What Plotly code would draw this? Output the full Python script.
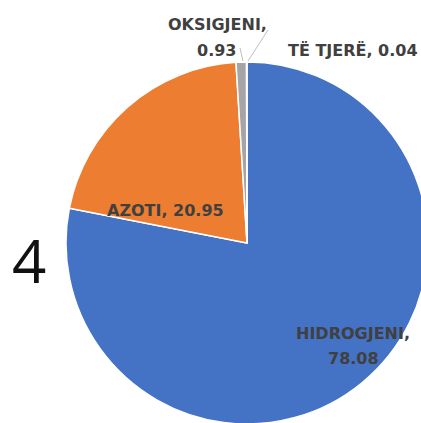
import plotly.graph_objects as go

# data
labels = ["HIDROGJENI", "AZOTI", "OKSIGJENI", "TË TJERË"]
values = [78.08, 20.95, 0.93, 0.04]
colors = ["#4472C4", "#ED7D31", "#A5A5A5", "#FFC000"]

W, H = 440, 440


def px(x):
    return x / W


def py(y):
    return 1 - y / H


fig = go.Figure()
fig.add_trace(go.Pie(labels=labels, values=values, sort=False, direction="clockwise",
                     marker=dict(colors=colors, line=dict(color="white", width=1.5)),
                     textinfo="none", hoverinfo="label+value", showlegend=False,
                     domain=dict(x=[px(66), px(428)], y=[py(424), py(62)])))

lab_font = dict(family="DejaVu Sans, sans-serif", size=16, color="#404040", weight="bold")


def label(x, y, text):
    fig.add_annotation(x=px(x), y=py(y), text=text, showarrow=False,
                       font=lab_font, xanchor="center", yanchor="middle")


## data labels
label(353, 333, labels[0] + ",")
label(353, 358, str(values[0]))
label(165, 211, "%s, %s" % (labels[1], values[1]))
label(217, 25, labels[2] + ",")
label(216, 50, str(values[2]))
label(353, 50, "%s, %s" % (labels[3], values[3]))

## leader lines
fig.add_shape(type="line", xref="paper", yref="paper", x0=px(268), y0=py(30), x1=px(248), y1=py(61),
              line=dict(color="#BFBFBF", width=1))
fig.add_shape(type="line", xref="paper", yref="paper", x0=px(240), y0=py(48), x1=px(243), y1=py(61),
              line=dict(color="#BFBFBF", width=1))

## side number
fig.add_annotation(x=px(29), y=py(260), text="4", showarrow=False,
                   font=dict(family="Open Sans, sans-serif", size=60, color="#111111"),
                   xanchor="center", yanchor="middle")

fig.update_layout(width=W, height=H, margin=dict(l=0, r=0, t=0, b=0),
                  paper_bgcolor="white", plot_bgcolor="white")

fig.write_html("out.html", config={"displayModeBar": False},
               post_script="document.body.style.margin='0';document.body.style.overflow='hidden';")
